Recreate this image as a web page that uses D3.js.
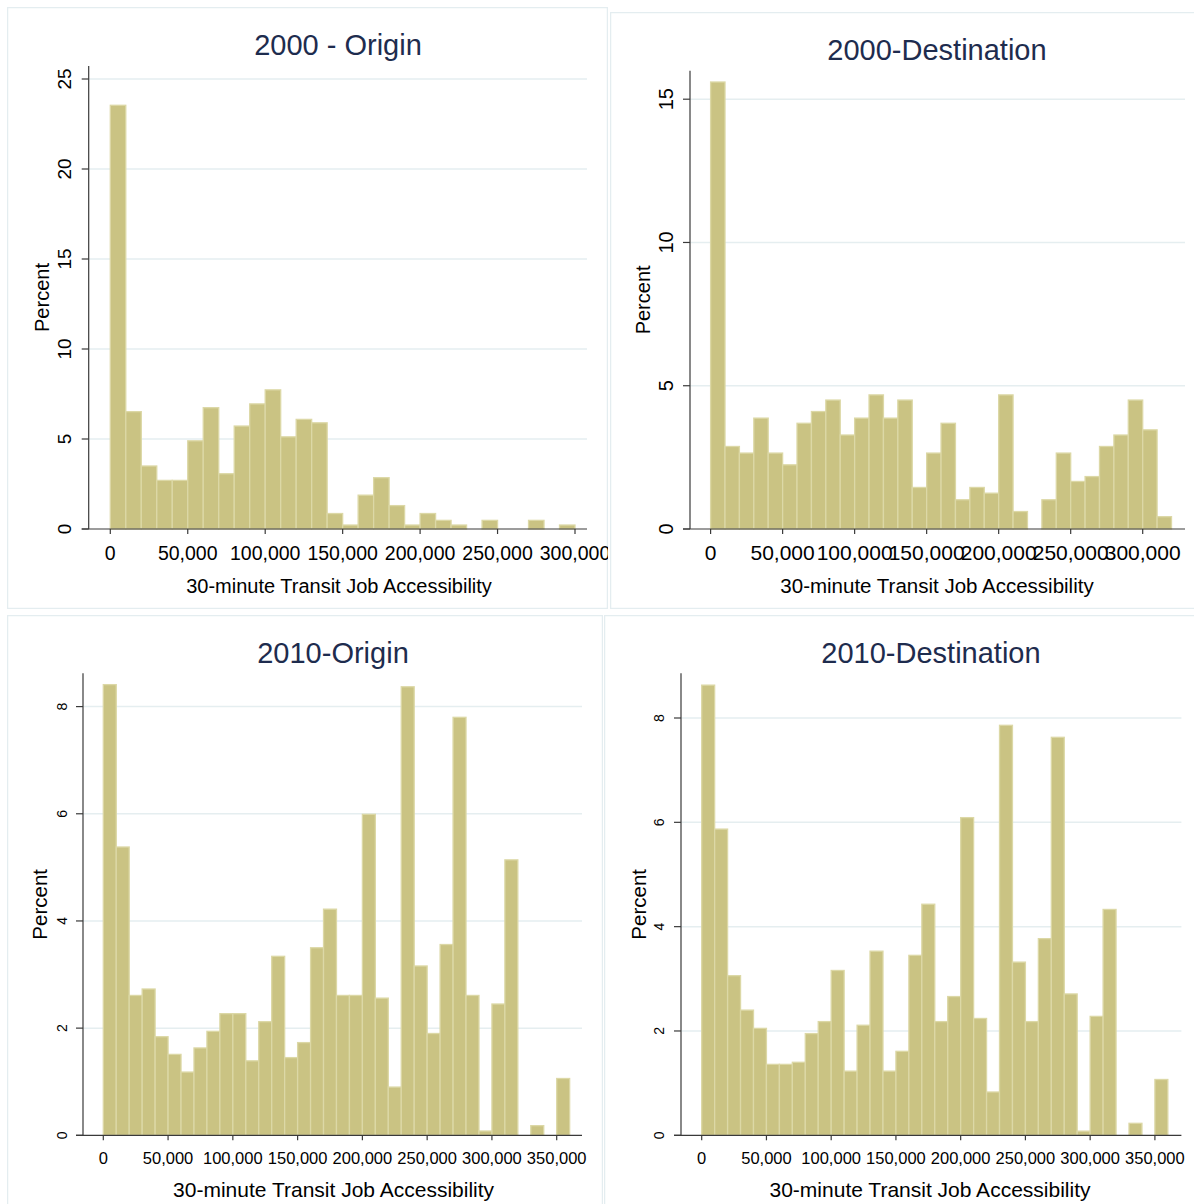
<!DOCTYPE html>
<html><head><meta charset="utf-8">
<script src="https://cdn.jsdelivr.net/npm/d3@7"></script>
<style>
body{margin:0;background:#fff}
svg{display:block}
text{font-family:"Liberation Sans",Arial,Helvetica,sans-serif}
</style>
</head><body>
<svg id="chart" width="1194" height="1204"></svg>
<script>
// ---------------- DATA ----------------
const panelTitles = ["2000 - Origin", "2000-Destination", "2010-Origin", "2010-Destination"];
const xAxisTitle = "30-minute Transit Job Accessibility";
const yAxisTitle = "Percent";
const binWidth = 10000; // each bar covers 10,000 jobs

// percent of zones per 10,000-job bin, starting at 0
const origin2000 = [23.54, 6.52, 3.50, 2.70, 2.70, 4.90, 6.74, 3.07, 5.72, 6.95,
                    7.73, 5.12, 6.09, 5.90, 0.86, 0.22, 1.88, 2.85, 1.30, 0.22,
                    0.86, 0.48, 0.22, 0, 0.48, 0, 0, 0.48, 0, 0.22];
const destination2000 = [15.60, 2.88, 2.65, 3.87, 2.65, 2.24, 3.69, 4.10, 4.50, 3.28,
                         3.87, 4.68, 3.87, 4.50, 1.45, 2.65, 3.69, 1.02, 1.45, 1.25,
                         4.68, 0.61, 0, 1.02, 2.65, 1.66, 1.83, 2.88, 3.28, 4.50,
                         3.46, 0.43];
const origin2010 = [8.41, 5.38, 2.61, 2.73, 1.84, 1.51, 1.18, 1.63, 1.94, 2.27,
                    2.27, 1.39, 2.12, 3.34, 1.45, 1.73, 3.50, 4.22, 2.61, 2.61,
                    5.99, 2.56, 0.90, 8.37, 3.16, 1.90, 3.56, 7.80, 2.61, 0.08,
                    2.45, 5.14, 0, 0.18, 0, 1.06];
const destination2010 = [8.63, 5.87, 3.06, 2.40, 2.05, 1.36, 1.36, 1.40, 1.95, 2.18,
                         3.16, 1.23, 2.11, 3.53, 1.23, 1.61, 3.45, 4.43, 2.18, 2.66,
                         6.09, 2.24, 0.83, 7.86, 3.32, 2.18, 3.77, 7.63, 2.71, 0.08,
                         2.28, 4.33, 0, 0.23, 0, 1.07];

const xTicks2000 = [0, 50000, 100000, 150000, 200000, 250000, 300000];
const xTicks2010 = [0, 50000, 100000, 150000, 200000, 250000, 300000, 350000];
const yTicksOrigin2000 = [0, 5, 10, 15, 20, 25];
const yTicksDestination2000 = [0, 5, 10, 15];
const yTicks2010 = [0, 2, 4, 6, 8];

// ---------------- LAYOUT ----------------
const barFill = "#cac383";
const barEdge = "#dcd8a6";
const gridColor = "#e5eef0";
const borderColor = "#e4edf0";
const axisColor = "#3a3a3a";
const titleColor = "#1e2c4e";

const panels = [
  {title: panelTitles[0], data: origin2000, xTicks: xTicks2000, yTicks: yTicksOrigin2000,
   box: [7, 7, 608, 609],
   xDom: [0, 300000], xRng: [110.3, 575], axX: [81.7, 587],
   yDom: [0, 25], yRng: [529, 79], axTop: 66,
   titleX: 338, titleY: 54.5, titleSize: 29,
   xtSize: 19.5, xtY: 560, ytSize: 19, ytX: 70.5,
   axSize: 20, axTitleX: 339, axTitleY: 593, pctX: 48.5, pctSize: 20},
  {title: panelTitles[1], data: destination2000, xTicks: xTicks2000, yTicks: yTicksDestination2000,
   box: [610, 12, 1200, 609],
   xDom: [0, 300000], xRng: [710.6, 1142.7], axX: [683, 1185],
   yDom: [0, 15], yRng: [529, 99.2], axTop: 70.8,
   titleX: 937, titleY: 60, titleSize: 29,
   xtSize: 21, xtY: 560, ytSize: 20, ytX: 673,
   axSize: 20.5, axTitleX: 937, axTitleY: 593, pctX: 650, pctSize: 20},
  {title: panelTitles[2], data: origin2010, xTicks: xTicks2010, yTicks: yTicks2010,
   box: [7, 615, 603, 1210],
   xDom: [0, 350000], xRng: [103.3, 556.7], axX: [76, 582],
   yDom: [0, 8], yRng: [1135.3, 706.6], axTop: 673.3,
   titleX: 333, titleY: 663, titleSize: 29,
   xtSize: 16.5, xtY: 1163.5, ytSize: 14, ytX: 66.7,
   axSize: 21, axTitleX: 333.6, axTitleY: 1197, pctX: 47, pctSize: 20.5},
  {title: panelTitles[3], data: destination2010, xTicks: xTicks2010, yTicks: yTicks2010,
   box: [604, 615, 1200, 1210],
   xDom: [0, 350000], xRng: [701.7, 1154.9], axX: [674, 1181.4],
   yDom: [0, 8], yRng: [1135.3, 718], axTop: 673.3,
   titleX: 931, titleY: 663, titleSize: 29,
   xtSize: 16.5, xtY: 1163.5, ytSize: 14, ytX: 664,
   axSize: 21, axTitleX: 930, axTitleY: 1197, pctX: 645.5, pctSize: 20.5}
];

const svg = d3.select("#chart");
const defs = svg.append("defs");
const fmt = d3.format(",");

panels.forEach((p, k) => {
  const [bx0, by0, bx1, by1] = p.box;
  defs.append("clipPath").attr("id", "clip" + k)
    .append("rect").attr("x", bx0).attr("y", by0).attr("width", bx1 - bx0).attr("height", by1 - by0);

  const g = svg.append("g").attr("clip-path", `url(#clip${k})`);
  g.append("rect").attr("x", bx0).attr("y", by0).attr("width", bx1 - bx0).attr("height", by1 - by0)
    .attr("fill", "#fff").attr("stroke", borderColor).attr("stroke-width", 2.5);

  const x = d3.scaleLinear().domain(p.xDom).range(p.xRng);
  const y = d3.scaleLinear().domain(p.yDom).range(p.yRng);
  const yAxisX = p.axX[0] + 7;
  const y0 = y(0);

  // gridlines
  g.selectAll(".grid").data(p.yTicks.filter(t => t > 0)).enter().append("line")
    .attr("x1", yAxisX).attr("x2", p.axX[1])
    .attr("y1", d => y(d)).attr("y2", d => y(d))
    .attr("stroke", gridColor).attr("stroke-width", 1.5);

  // bars
  g.selectAll(".bar").data(p.data.map((v, i) => ({i, v})).filter(d => d.v > 0)).enter().append("rect")
    .attr("x", d => x(d.i * binWidth))
    .attr("width", d => x((d.i + 1) * binWidth) - x(d.i * binWidth))
    .attr("y", d => y(d.v))
    .attr("height", d => y0 - y(d.v))
    .attr("fill", barFill).attr("stroke", barEdge).attr("stroke-width", 1.3);

  // axes lines
  g.append("line").attr("x1", yAxisX).attr("x2", yAxisX).attr("y1", p.axTop).attr("y2", y0)
    .attr("stroke", axisColor).attr("stroke-width", 1.2);
  g.append("line").attr("x1", p.axX[0]).attr("x2", p.axX[1]).attr("y1", y0).attr("y2", y0)
    .attr("stroke", axisColor).attr("stroke-width", 1.2);

  // y ticks
  g.selectAll(".yt").data(p.yTicks).enter().append("line")
    .attr("x1", yAxisX - 7).attr("x2", yAxisX)
    .attr("y1", d => y(d)).attr("y2", d => y(d))
    .attr("stroke", axisColor).attr("stroke-width", 1.2);
  g.selectAll(".ytl").data(p.yTicks).enter().append("text")
    .attr("transform", d => `translate(${p.ytX},${y(d)}) rotate(-90)`)
    .attr("text-anchor", "middle").attr("font-size", p.ytSize).attr("fill", "#000")
    .text(d => d);

  // x ticks
  g.selectAll(".xt").data(p.xTicks).enter().append("line")
    .attr("x1", d => x(d)).attr("x2", d => x(d))
    .attr("y1", y0).attr("y2", y0 + 5)
    .attr("stroke", axisColor).attr("stroke-width", 1.2);
  g.selectAll(".xtl").data(p.xTicks).enter().append("text")
    .attr("x", d => x(d)).attr("y", p.xtY)
    .attr("text-anchor", "middle").attr("font-size", p.xtSize).attr("fill", "#000")
    .text(d => fmt(d));

  // titles
  g.append("text").attr("x", p.titleX).attr("y", p.titleY).attr("text-anchor", "middle")
    .attr("font-size", p.titleSize).attr("fill", titleColor).text(p.title);
  g.append("text").attr("x", p.axTitleX).attr("y", p.axTitleY).attr("text-anchor", "middle")
    .attr("font-size", p.axSize).attr("fill", "#000").text(xAxisTitle);
  const midY = (p.axTop + y0) / 2;
  g.append("text").attr("transform", `translate(${p.pctX},${midY}) rotate(-90)`)
    .attr("text-anchor", "middle").attr("font-size", p.pctSize).attr("fill", "#000").text(yAxisTitle);
});
</script>
</body></html>
